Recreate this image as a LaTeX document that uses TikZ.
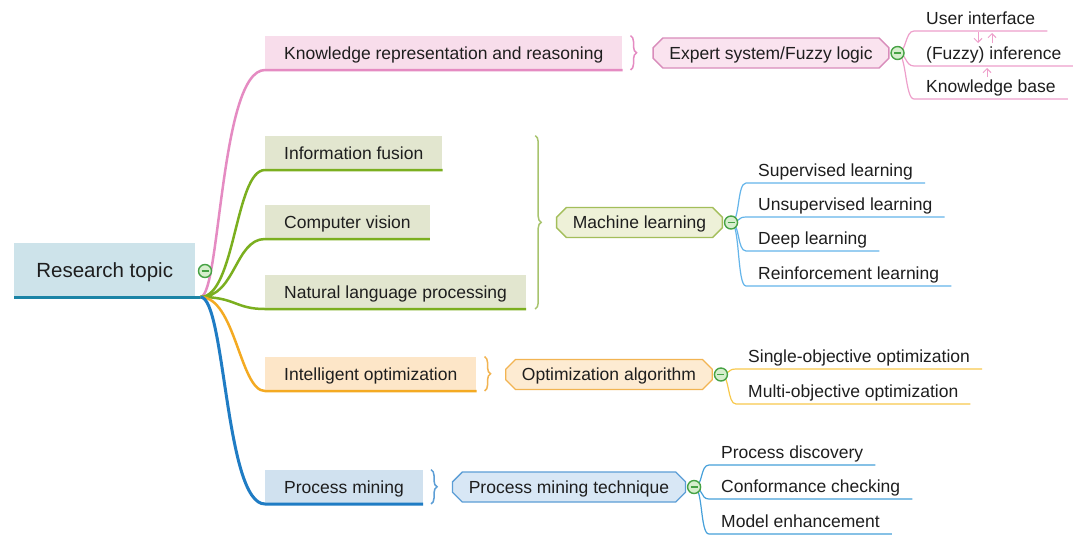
\documentclass[tikz,border=0pt]{standalone}
\usepackage{fontspec}
\setmainfont{Liberation Sans}
\usetikzlibrary{shapes.misc,decorations.pathreplacing,arrows.meta,calc}
\definecolor{textc}{HTML}{1E1E1E}
\definecolor{rootfill}{HTML}{CDE3EA}
\definecolor{rootline}{HTML}{1B84A6}
\definecolor{pinkfill}{HTML}{F8DDEB}
\definecolor{pinkline}{HTML}{E58BC2}
\definecolor{pinksubfill}{HTML}{FAE3EF}
\definecolor{pinkborder}{HTML}{D98CBB}
\definecolor{pinkleaf}{HTML}{EE9FCB}
\definecolor{greenfill}{HTML}{E2E6CF}
\definecolor{greenline}{HTML}{7BAF1F}
\definecolor{greenbrace}{HTML}{A8C46E}
\definecolor{mlfill}{HTML}{EEF1D8}
\definecolor{mlborder}{HTML}{A3BE5A}
\definecolor{mlleaf}{HTML}{64B5EA}
\definecolor{orangefill}{HTML}{FDE6C8}
\definecolor{orangeline}{HTML}{F4AA22}
\definecolor{oafill}{HTML}{FDEBD2}
\definecolor{oaborder}{HTML}{F2B452}
\definecolor{oaleaf}{HTML}{F8C94D}
\definecolor{bluefill}{HTML}{D0E1EF}
\definecolor{blueline}{HTML}{1F7CC4}
\definecolor{pmtfill}{HTML}{D8E7F5}
\definecolor{pmtborder}{HTML}{5C9ED6}
\definecolor{pmleaf}{HTML}{46A0DA}
\definecolor{tgreen}{HTML}{46A244}
\definecolor{tgreenfill}{HTML}{D6EECD}
\pgfdeclarelayer{front}
\pgfsetlayers{main,front}
\begin{document}
\begin{tikzpicture}[x=1pt,y=-1pt,
  txt/.style={font=\fontsize{17.5}{21}\selectfont, text=textc},
  topicbox/.style={txt, rectangle, anchor=south west, inner xsep=19pt, inner ysep=0pt, minimum height=34pt, text height=12.5pt, text depth=0pt},
  subnode/.style={txt, chamfered rectangle, chamfered rectangle xsep=7pt, line width=1.3pt, minimum height=30pt, inner xsep=10pt, inner ysep=0pt, text height=12.5pt, text depth=0pt},
  leafnode/.style={txt, anchor=south west, inner xsep=12pt, inner ysep=6pt, text depth=0pt},
  toggle/.style={circle, draw=tgreen, fill=tgreenfill, line width=1.4pt, minimum size=13pt, inner sep=0pt,
    path picture={\draw[tgreen,line width=1.5pt] ([xshift=-3.5pt]path picture bounding box.center) -- ([xshift=3.5pt]path picture bounding box.center);}},
  mbranch/.style={line width=2.5pt},
  leafline/.style={line width=1.2pt},
  bracestyle/.style={decorate, decoration={brace, amplitude=6pt}, line width=1.5pt},
  smallarrow/.style={-{Straight Barb[length=4pt,width=8pt]}, pinkleaf, line width=1pt}
]
\useasboundingbox[fill=white] (0,0) rectangle (1073,550);

% root and topic boxes
\node[topicbox, fill=rootfill, minimum width=181pt, minimum height=54pt, inner xsep=0pt, text height=14.7pt, font=\fontsize{20.5}{24}\selectfont] (root) at (14,297) {Research topic};
\node[topicbox, fill=pinkfill] (KR) at (265,70) {Knowledge representation and reasoning};
\node[topicbox, fill=greenfill] (IF) at (265,170) {Information fusion};
\node[topicbox, fill=greenfill] (CV) at (265,239) {Computer vision};
\node[topicbox, fill=greenfill] (NLP) at (265,309) {Natural language processing};
\node[topicbox, fill=orangefill] (IO) at (265,391) {Intelligent optimization};
\node[topicbox, fill=bluefill] (PM) at (265,504) {Process mining};

% sub nodes
\node[subnode, draw=pinkborder, fill=pinksubfill] (ES) at (771,53) {Expert system/Fuzzy logic};
\node[subnode, draw=mlborder, fill=mlfill] (ML) at (639.5,222.5) {Machine learning};
\node[subnode, draw=oaborder, fill=oafill] (OA) at (609,374.5) {Optimization algorithm};
\node[subnode, draw=pmtborder, fill=pmtfill] (PMT) at (569,487) {Process mining technique};

% toggles
\begin{pgfonlayer}{front}
\node[toggle] (tR) at (205,271) {};
\node[toggle] (tES) at ([xshift=8pt]ES.east) {};
\node[toggle] (tML) at ([xshift=8pt]ML.east) {};
\node[toggle] (tOA) at ([xshift=8pt]OA.east) {};
\node[toggle] (tPMT) at ([xshift=8pt]PMT.east) {};
\end{pgfonlayer}

% leaves
\node[leafnode] (UI) at (914,31) {User interface};
\node[leafnode] (INF) at (914,66) {(Fuzzy) inference};
\node[leafnode] (KB) at (914,99) {Knowledge base};
\node[leafnode] (SL) at (746,183) {Supervised learning};
\node[leafnode] (UL) at (746,217) {Unsupervised learning};
\node[leafnode] (DL) at (746,251) {Deep learning};
\node[leafnode] (RL) at (746,286) {Reinforcement learning};
\node[leafnode] (SO) at (736,369) {Single-objective optimization};
\node[leafnode] (MO) at (736,404) {Multi-objective optimization};
\node[leafnode] (PD) at (709,465) {Process discovery};
\node[leafnode] (CC) at (709,499) {Conformance checking};
\node[leafnode] (ME) at (709,534) {Model enhancement};

% root underline and branches
\coordinate (hub) at ([xshift=5pt]root.south east);
\draw[mbranch, pinkline] (hub) .. controls +(20,0) and +(-45,0) .. (KR.south west) -- (KR.south east);
\foreach \n in {IF,CV,NLP}
  \draw[mbranch, greenline] (hub) .. controls +(35,0) and +(-30,0) .. (\n.south west) -- (\n.south east);
\draw[mbranch, orangeline] (hub) .. controls +(35,0) and +(-25,0) .. (IO.south west) -- (IO.south east);
\draw[mbranch, blueline, line width=3pt] (hub) .. controls +(25,0) and +(-40,0) .. (PM.south west) -- (PM.south east);
\draw[line width=3pt, rootline] (root.south west) -- (hub);

% braces
\draw[bracestyle, pinkline] ([xshift=8pt]KR.north east) -- ([xshift=8pt]KR.south east);
\draw[bracestyle, greenbrace] ([xshift=9pt]IF.north -| NLP.east) -- ([xshift=9pt]NLP.south east);
\draw[bracestyle, oaborder] ([xshift=8pt]IO.north east) -- ([xshift=8pt]IO.south east);
\draw[bracestyle, pmtborder] ([xshift=8pt]PM.north east) -- ([xshift=8pt]PM.south east);

% leaf lines
\foreach \l in {UI,INF,KB}
  \draw[leafline, pinkleaf] (tES.center) .. controls +(9,0) and +(-9,0) .. (\l.south west) -- (\l.south east);
\foreach \l in {SL,UL,DL,RL}
  \draw[leafline, mlleaf] (tML.center) .. controls +(9,0) and +(-9,0) .. (\l.south west) -- (\l.south east);
\foreach \l in {SO,MO}
  \draw[leafline, oaleaf] (tOA.center) .. controls +(9,0) and +(-9,0) .. (\l.south west) -- (\l.south east);
\foreach \l in {PD,CC,ME}
  \draw[leafline, pmleaf] (tPMT.center) .. controls +(9,0) and +(-9,0) .. (\l.south west) -- (\l.south east);

% small arrows between expert system components
\draw[smallarrow] ([xshift=64pt,yshift=-1pt]UI.south west) -- ([xshift=64pt,yshift=23pt]INF.south west);
\draw[smallarrow] ([xshift=78pt,yshift=23pt]INF.south west) -- ([xshift=78pt,yshift=-2pt]UI.south west);
\draw[smallarrow] ([xshift=73pt,yshift=22pt]KB.south west) -- ([xshift=73pt,yshift=-2pt]INF.south west);
\end{tikzpicture}
\end{document}
